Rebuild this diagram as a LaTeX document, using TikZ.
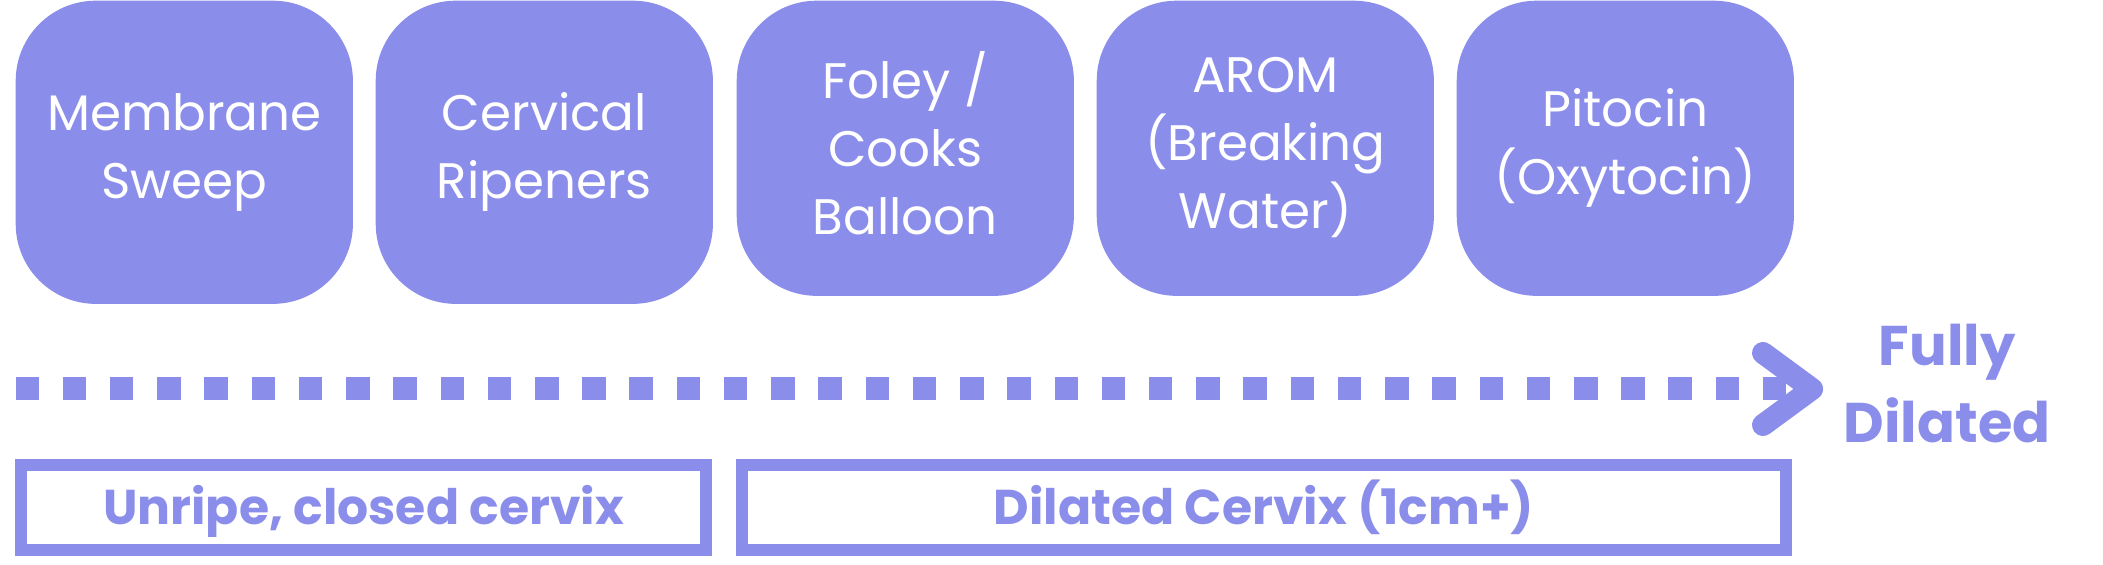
\documentclass[tikz,border=0pt]{standalone}
\usepackage{fontspec}
\setmainfont{Poppins}
\usetikzlibrary{positioning}

\definecolor{lilac}{RGB}{138,142,234}
\newcommand{\capstrut}{\rule[-0.2em]{0pt}{1.1em}}

\begin{document}
\begin{tikzpicture}
[x=0.01cm, y=-0.01cm,
 stepbox/.style={shape=rectangle,fill=lilac,text=white,rounded corners=0.8cm,
   inner sep=0pt,minimum width=3.37cm,minimum height=2.95cm,anchor=north west,
   align=center,font=\fontsize{14.2pt}{19.35pt}\selectfont,
   execute at begin node=\capstrut,execute at end node=\capstrut},
 stagebox/.style={shape=rectangle,draw=lilac,line width=0.12cm,text=lilac,
   minimum height=0.85cm,text height=0.345cm,text depth=0pt,
   font=\bfseries\fontsize{13.9pt}{17pt}\selectfont},
 endlabel/.style={text=lilac,inner sep=0pt,anchor=west,align=center,
   font=\bfseries\fontsize{15.9pt}{21.9pt}\selectfont,
   execute at begin node=\capstrut,execute at end node=\capstrut},
 timeline/.style={lilac,line width=0.23cm,dash pattern=on 0.235cm off 0.237cm},
 chevron/.style={lilac,line width=0.22cm,line cap=round,line join=round}]

\useasboundingbox (0,0) rectangle (2103,565);

% methods
\node (sweep) [stepbox,minimum height=3.03cm] at (15,0) {Membrane\\Sweep};
\node (ripen) [stepbox,minimum height=3.03cm] at (375,0) {Cervical\\Ripeners};
\node (foley) [stepbox] at (736,0) {Foley /\\Cooks\\Balloon};
\node (arom) [stepbox] at (1096,0) {AROM\\(Breaking\\Water)};
\node (pito) [stepbox] at (1456,0) {Pitocin\\(Oxytocin)};

% timeline
\coordinate (start) at (15.5,389);
\coordinate (tip) at (1812,389);
\draw [timeline] (start) -- (tip);
\draw [chevron] (tip) ++(-49,-36) -- (tip) -- ++(-49,36);
\node (full) [endlabel,right=0.31cm of tip] {Fully\\Dilated};

% stages
\node (unripe) [stagebox,minimum width=6.85cm] at (363.5,507.5) {Unripe, closed cervix};
\node (dilated) [stagebox,minimum width=10.44cm] at (1264,507.5) {Dilated Cervix (1cm+)};
\end{tikzpicture}
\end{document}
